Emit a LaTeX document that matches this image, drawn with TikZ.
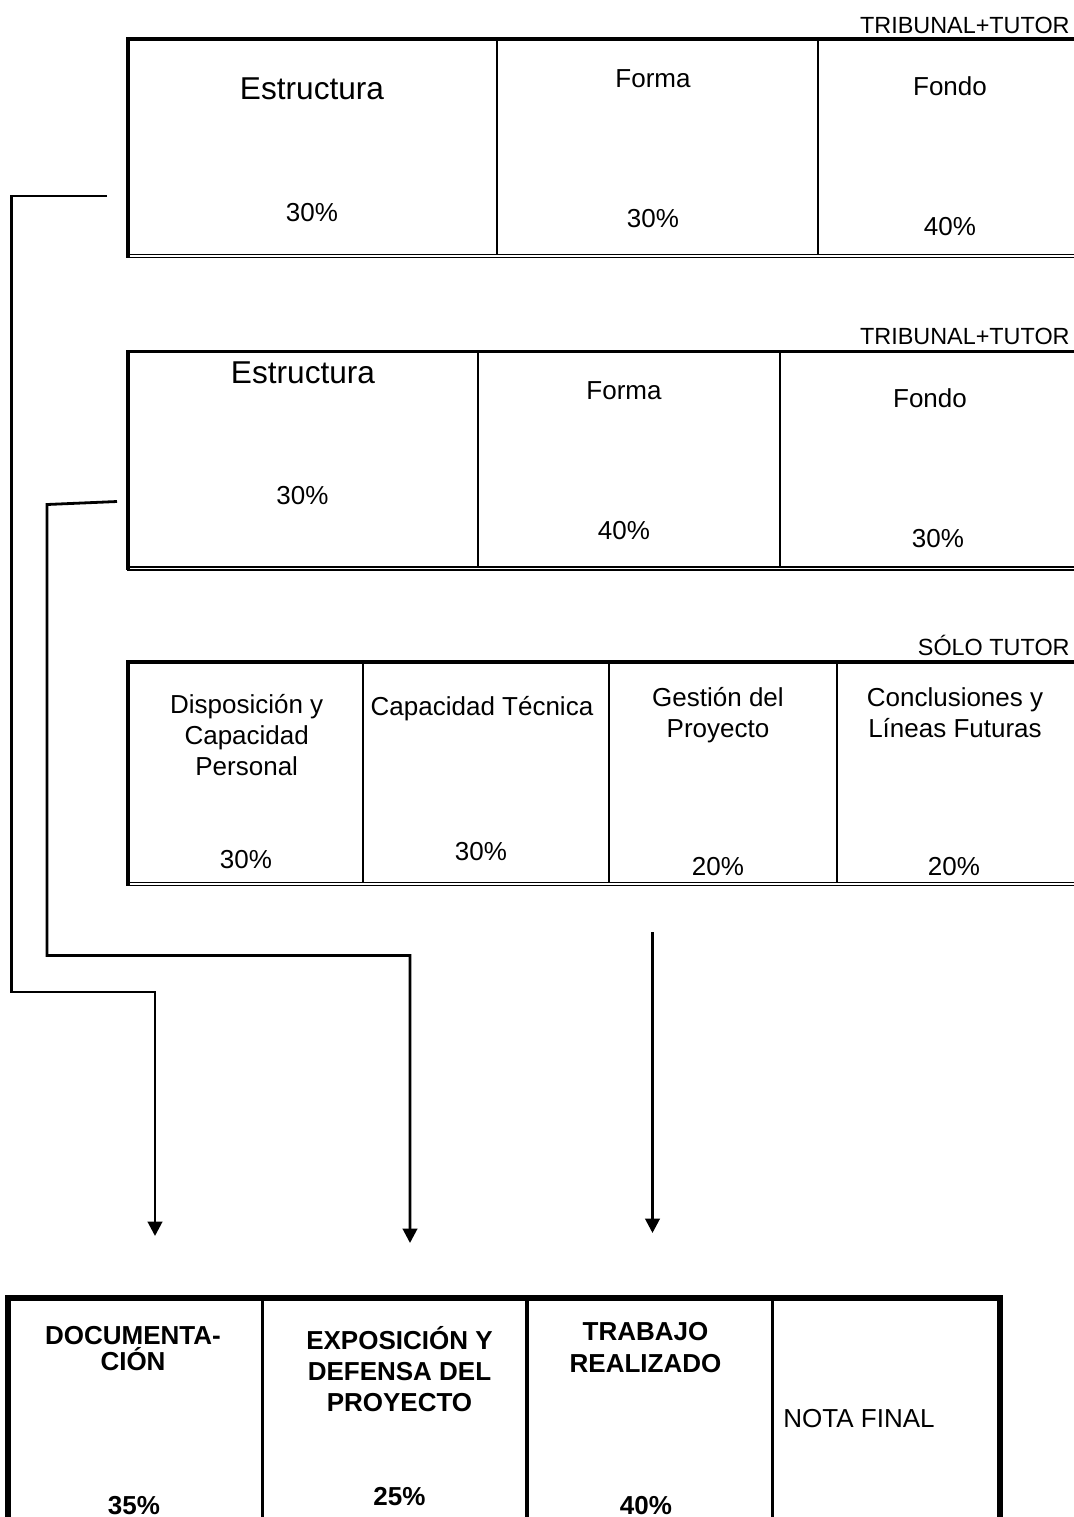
\documentclass[tikz,border=0pt]{standalone}
\usepackage{fontspec}
\setmainfont{Liberation Sans}
\usetikzlibrary{arrows.meta}

\begin{document}
\begin{tikzpicture}[x=0.5pt,y=-0.5pt,>={Triangle[width=7.2pt,length=7.2pt]},
    marco/.style={line width=1.7pt},
    sep/.style={line width=1.1pt},
    doble/.style={line width=0.65pt},
    linea/.style={line width=1.4pt},
    txt/.style={inner sep=0pt,anchor=base,align=center,font=\fontsize{13}{15.5}\selectfont},
    grande/.style={txt,font=\fontsize{15.8}{19}\selectfont},
    negrita/.style={txt,font=\fontsize{13}{15.5}\selectfont\bfseries},
    etiq/.style={inner sep=0pt,anchor=base east,font=\fontsize{11.7}{14}\selectfont}]
    \useasboundingbox (0,0) rectangle (1074,1517);
    %%%%%%%%%%%%%%%%%%%%%%%%%%%%%%%%%%%%%%%%%%cuadros de arriba
    \foreach \t/\b in {39/254.7,351.3/567,662/882.7}
    {
        \draw[marco] (1074,\t) -| (128,\b+3);
        \draw[doble] (127,\b) -- (1074,\b);
        \draw[doble] (127,\b+2.9) -- (1074,\b+2.9);
    }
    \foreach \x in {497,818}
    {
        \draw[sep] (\x,39) -- (\x,254.7);
    }
    \foreach \x in {478,780}
    {
        \draw[sep] (\x,351.3) -- (\x,567);
    }
    \foreach \x in {363,609,837}
    {
        \draw[sep] (\x,662) -- (\x,882.7);
    }
    %%%%%%%%%%%%%%%%%%%%%%%%%%%%%%%%%%%%%%%%%%textos
    \node[etiq] (jur1) at (1070,33) {TRIBUNAL+TUTOR};
    \node[etiq] (jur2) at (1070,344) {TRIBUNAL+TUTOR};
    \node[etiq] (jur3) at (1070,655) {SÓLO TUTOR};
    \node[grande] (estr1) at (312,99) {Estructura};
    \node[grande] (estr2) at (303,383) {Estructura};
    \foreach \n/\x/\y/\t in {pa/312/221/30\%,fa/653/87/Forma,pb/653/227/30\%,fb/950/95/Fondo,pc/950/235/40\%}
    {
        \node[txt] (u\n) at (\x,\y) {\t};
    }
    \foreach \n/\x/\y/\t in {pa/302.5/504/30\%,fa/624/399/Forma,pb/624/539/40\%,fb/930/407/Fondo,pc/938/547/30\%}
    {
        \node[txt] (d\n) at (\x,\y) {\t};
    }
    % la base de un texto de varias lineas es la de su ultima linea
    \foreach \n/\x/\y/\t in {ta/246.7/775/{Disposición y\\Capacidad\\Personal},pa/246/868/30\%,tb/482/715/Capacidad Técnica,pb/481/860/30\%,tc/718/737/{Gestión del\\Proyecto},pc/718/875/20\%,td/955/737/{Conclusiones y\\Líneas Futuras},pd/954/875/20\%}
    {
        \node[txt] (s\n) at (\x,\y) {\t};
    }
    %%%%%%%%%%%%%%%%%%%%%%%%%%%%%%%%%%%%%%%%%%tabla final
    \draw[line width=2.8pt] (7.7,1525) |- (1000,1298) -- (1000,1525);
    \foreach \x in {262.4,527,772.6}
    {
        \draw[line width=1.6pt] (\x,1298) -- (\x,1525);
    }
    \node[negrita] (doc) at (133,1370) {DOCUMENTA-\\[-2.5pt]CIÓN};
    \node[negrita] (expo) at (399.5,1411) {EXPOSICIÓN Y\\DEFENSA DEL\\PROYECTO};
    \node[negrita] (trab) at (645.5,1372) {TRABAJO\\[0.5pt]REALIZADO};
    \node[negrita] (p35) at (134,1514) {35\%};
    \node[negrita] (p25) at (399.5,1505) {25\%};
    \node[negrita] (p40) at (646,1514) {40\%};
    \node[txt,anchor=base west] (nota) at (783,1427) {NOTA FINAL};
    %%%%%%%%%%%%%%%%%%%%%%%%%%%%%%%%%%%%%%%%%%flechas
    \coordinate (docin) at (107,196);
    \coordinate (docout) at (155,1236);
    \coordinate (expin) at (117,501.5);
    \coordinate (expout) at (410,1243);
    \coordinate (trin) at (652.5,932);
    \coordinate (trout) at (652.5,1233);
    \draw[linea,->] (docin) -- (11.5,196) -- (11.5,992) -- (155,992) -- (docout);
    \draw[linea,->] (expin) -- (47,504.5) -- (47,955.5) -- (410,955.5) -- (expout);
    \draw[linea,->] (trin) -- (trout);
\end{tikzpicture}
\end{document}
